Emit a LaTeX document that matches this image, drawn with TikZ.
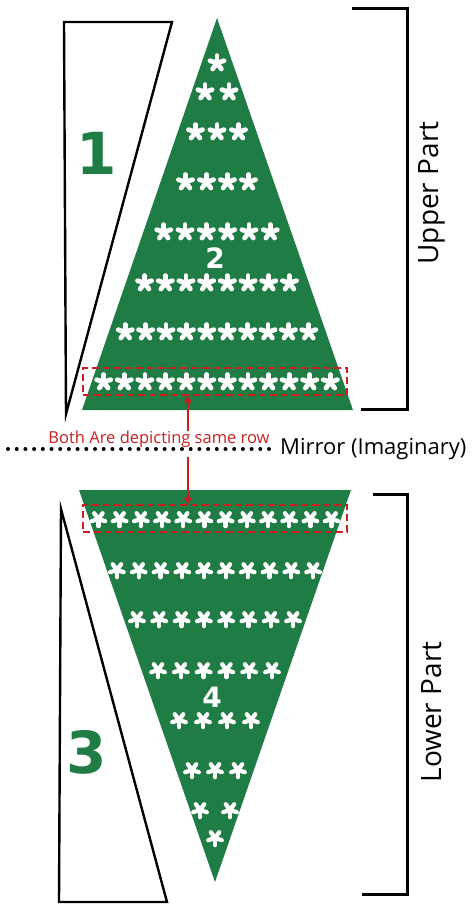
\documentclass[tikz,border=0pt]{standalone}
\usepackage{fontspec}
\setmainfont{Open Sans}
\newfontfamily\numfont{DejaVu Sans}
\usetikzlibrary{arrows.meta}
\definecolor{treegreen}{RGB}{30,124,68}
\definecolor{markred}{RGB}{200,32,32}
\tikzset{
  outline/.style={draw=black, line width=2.4pt, line join=miter},
  treefill/.style={fill=treegreen},
  snowarm/.style={draw=white, line width=4.8pt, line cap=round},
  pics/snowflake/.style={code={
    \foreach \k in {0,...,4} \draw[snowarm] (0,0) -- (-90+72*\k:7.4);
  }},
  pics/snowflakedown/.style={code={
    \foreach \k in {0,...,4} \draw[snowarm, line width=4.3pt] (0,0) -- (90+72*\k:7.1);
  }},
  rowbox/.style={draw=markred, line width=1.3pt, dash pattern=on 7pt off 4pt, minimum width=264pt, minimum height=27pt, inner sep=0pt},
  bracketline/.style={draw=black, line width=3pt},
  mirrorline/.style={line width=4pt, line cap=round, dash pattern=on 0pt off 8.7pt},
  linkarrow/.style={draw=markred, line width=1.5pt, -{Triangle[length=7pt,width=8pt]}},
  bignum/.style={text=treegreen, font=\numfont\bfseries\fontsize{58}{58}\selectfont, inner sep=0pt},
  smallnum/.style={text=white, font=\numfont\bfseries\fontsize{28}{28}\selectfont, inner sep=0pt},
  sidelabel/.style={rotate=90, font=\fontsize{28}{28}\selectfont, inner sep=0pt}
}
\begin{document}
\begin{tikzpicture}[x=1pt,y=-1pt]
\useasboundingbox (0,0) rectangle (474,915);
% upper part
\draw[outline] (64,22) -- (172,22) -- (66,414) -- cycle;
\fill[treefill] (217,18) -- (82,410) -- (353,410) -- cycle;
\foreach \n/\y/\d in {1/63/21,2/92/24,3/132/21.5,4/182/21,6/232/21.3,8/283/20.7,10/332/20.4,12/382/20.6}
  \foreach \i in {1,...,\n}
    \pic at ({217+(\i-(\n+1)/2)*\d},\y) {snowflake};
\node[rowbox] (upbox) at (215,381.5) {};
\node[bignum] (n1) at (97,153) {1};
\node[smallnum] (n2) at (215,258) {2};
\draw[bracketline] (352,9) -- (407,9) -- (407,409) -- (361,409);
\node[sidelabel] (upper) at (432,193) {Upper Part};
% mirror
\coordinate (m1) at (8,449);
\coordinate (m2) at (272,449);
\draw[mirrorline] (m1) -- (m2);
\node[anchor=west, font=\fontsize{22}{22}\selectfont, inner sep=0pt] (mirror) at (280,449) {Mirror (Imaginary)};
\node[text=markred, font=\fontsize{16.5}{16.5}\selectfont, inner sep=0pt] (linktext) at (159,439) {Both Are depicting same row};
% lower part
\draw[outline] (61,509) -- (59,902) -- (167,902) -- cycle;
\fill[treefill] (79,490) -- (351,490) -- (215,882) -- cycle;
\foreach \n/\y/\d in {12/519/21.2,10/570/21.8,8/619/22.3,6/670/22.8,4/720/24,3/770/23,2/810/30,1/838/0}
  \foreach \i in {1,...,\n}
    \pic at ({215+(\i-(\n+1)/2)*\d},\y) {snowflakedown};
\node[rowbox] (lowbox) at (215,518.5) {};
\node[bignum] (n3) at (87,752) {3};
\node[smallnum] (n4) at (212,697) {4};
\draw[bracketline] (373,494) -- (407,494) -- (407,894) -- (362,894);
\node[sidelabel] (lower) at (432,712) {Lower Part};
% arrows
\coordinate (a1) at (188,431);
\coordinate (a2) at (188,457);
\draw[linkarrow] (a1) -- (a1 |- upbox.south);
\draw[linkarrow] (a2) -- (a2 |- lowbox.north);
\end{tikzpicture}
\end{document}
